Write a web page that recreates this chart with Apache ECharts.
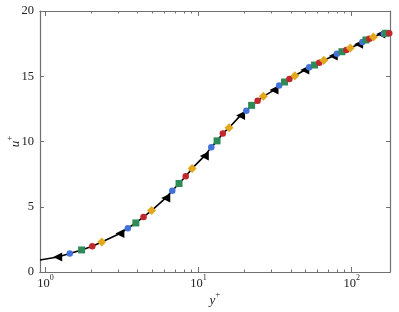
<!DOCTYPE html>
<html lang="en">

<head>
  <meta charset="UTF-8">
  <title>u+ profile</title>
  <style>
    * {
      margin: 0;
      padding: 0;
    }

    body {
      background-color: #fff;
    }

    #chart {
      width: 399px;
      height: 312px;
    }
  </style>
</head>

<body>
  <div id="chart"></div>
  <script src="https://cdn.jsdelivr.net/npm/echarts@6/dist/echarts.min.js"></script>
  <script>
    // mean velocity profile
    const profile = [
      [0.92, 0.92], [1.20, 1.15], [1.44, 1.41], [1.72, 1.69], [2.02, 1.97], [2.33, 2.30],
      [3.06, 2.95], [3.45, 3.35], [3.89, 3.76], [4.37, 4.22], [4.93, 4.71],
      [6.10, 5.68], [6.73, 6.22], [7.45, 6.78], [8.24, 7.34], [9.07, 7.94],
      [10.9, 8.88], [12.1, 9.55], [13.2, 10.05], [14.4, 10.62], [15.8, 11.05],
      [18.8, 12.0], [20.5, 12.36], [22.2, 12.77], [24.3, 13.12], [26.5, 13.46],
      [31.1, 13.94], [33.6, 14.3], [36.4, 14.56], [39.2, 14.79], [42.5, 15.04],
      [49.4, 15.48], [52.8, 15.69], [57.2, 15.86], [61.4, 16.04], [65.8, 16.22],
      [75.8, 16.55], [80.1, 16.73], [86.4, 16.88], [92.3, 17.01], [98.0, 17.17],
      [111, 17.45], [117.5, 17.63], [124, 17.78], [130.6, 17.88], [138.8, 18.01],
      [155, 18.24], [162, 18.26], [167, 18.29], [176, 18.3], [178, 18.3]
    ]
    const triPts = [[1.20, 1.15], [3.06, 2.95], [6.10, 5.68], [10.9, 8.88], [18.8, 12.0],
      [31.1, 13.94], [49.4, 15.48], [75.8, 16.55], [111, 17.45], [155, 18.24]]
    const bluePts = [[1.44, 1.41], [3.45, 3.35], [6.73, 6.22], [12.1, 9.55], [20.5, 12.36],
      [33.6, 14.3], [52.8, 15.69], [80.1, 16.73], [117.5, 17.63], [162, 18.26]]
    const greenPts = [[1.72, 1.69], [3.89, 3.76], [7.45, 6.78], [13.2, 10.05], [22.2, 12.77],
      [36.4, 14.56], [57.2, 15.86], [86.4, 16.88], [124, 17.78], [167, 18.29]]
    const redPts = [[2.02, 1.97], [4.37, 4.22], [8.24, 7.34], [14.4, 10.62], [24.3, 13.12],
      [39.2, 14.79], [61.4, 16.04], [92.3, 17.01], [130.6, 17.88], [176, 18.3]]
    const yellowPts = [[2.33, 2.30], [4.93, 4.71], [9.07, 7.94], [15.8, 11.05], [26.5, 13.46],
      [42.5, 15.04], [65.8, 16.22], [98.0, 17.17], [138.8, 18.01]]

    const xMajor = [1, 10, 100]
    const xMinor = [2, 3, 4, 5, 6, 7, 8, 9, 20, 30, 40, 50, 60, 70, 80, 90]

    const font = 'Liberation Serif'
    const frame = '#707070'
    const ink = '#222'

    const chart = echarts.init(document.getElementById('chart'))

    // base text + raised small text
    const supRich = (size, supSize, italic) => ({
      b: { fontFamily: font, fontStyle: italic ? 'italic' : 'normal', fontSize: size, color: ink, lineHeight: size + 4, verticalAlign: 'bottom' },
      s: { fontFamily: font, fontSize: supSize, color: ink, lineHeight: supSize + 2, verticalAlign: 'top' }
    })

    const logAxis = (pos, ticks, len, labels) => ({
      type: 'log',
      logBase: 10,
      position: pos,
      min: 0.92,
      max: 178,
      axisLine: { show: true, onZero: false, lineStyle: { color: frame, width: 1.2 } },
      axisTick: { show: true, inside: true, length: len, customValues: ticks, lineStyle: { color: frame } },
      axisLabel: labels ? {
        show: true,
        customValues: ticks,
        margin: 2,
        formatter: v => '{b|10}{s|' + Math.round(Math.log10(v)) + '}',
        rich: supRich(12.5, 8)
      } : { show: false },
      splitLine: { show: false },
      minorTick: { show: false }
    })

    const xBottom = logAxis('bottom', xMajor, 5, true)
    xBottom.name = '{b|y}{s|+}'
    xBottom.nameLocation = 'middle'
    xBottom.nameGap = 18
    xBottom.nameMoveOverlap = false
    xBottom.nameTextStyle = { rich: supRich(13, 9, true) }

    const yAxis = (pos, labels) => ({
      type: 'value',
      position: pos,
      min: 0,
      max: 20,
      interval: 5,
      axisLine: { show: true, lineStyle: { color: frame, width: 1.2 } },
      axisTick: { show: true, inside: true, length: 4, lineStyle: { color: frame } },
      axisLabel: labels ? { show: true, fontFamily: font, fontSize: 12.5, color: ink, margin: 6 } : { show: false },
      splitLine: { show: false }
    })

    const yLeft = yAxis('left', true)
    yLeft.name = '{b|u}{s|+}'
    yLeft.nameLocation = 'middle'
    yLeft.nameGap = 18
    yLeft.nameMoveOverlap = false
    yLeft.nameTextStyle = { rich: supRich(13, 9, true) }

    const marks = (data, symbol, size, color, rotate) => ({
      type: 'scatter',
      data: data,
      symbol: symbol,
      symbolSize: size,
      symbolRotate: rotate || 0,
      itemStyle: { color: color, opacity: 1 },
      silent: true,
      z: 3
    })

    chart.setOption({
      animation: false,
      grid: { left: 40, right: 9, top: 11, bottom: 40, containLabel: false, outerBoundsMode: 'none' },
      xAxis: [
        xBottom,
        logAxis('bottom', xMinor, 2.5, false),
        logAxis('top', xMajor, 5, false),
        logAxis('top', xMinor, 2.5, false)
      ],
      yAxis: [yLeft, yAxis('right', false)],
      series: [
        {
          type: 'line',
          data: profile,
          showSymbol: false,
          symbol: 'none',
          lineStyle: { color: '#000', width: 1.6 },
          z: 2
        },
        marks(triPts, 'triangle', 9, '#000', 90),
        marks(bluePts, 'circle', 6.5, '#4472dd'),
        marks(greenPts, 'rect', 7, '#2e8b57'),
        marks(redPts, 'circle', 6.5, '#c0282c'),
        marks(yellowPts, 'diamond', 9, '#e2a91e')
      ]
    })
  </script>
</body>

</html>
